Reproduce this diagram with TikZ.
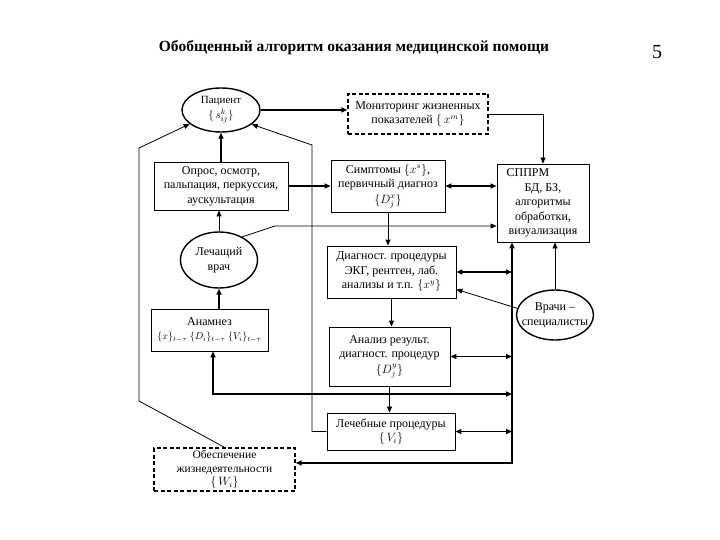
\documentclass[tikz,border=0pt]{standalone}
\usepackage{fontspec}
\setmainfont{Liberation Serif}
\usetikzlibrary{shapes.geometric,arrows.meta,calc}
\begin{document}
\begin{tikzpicture}[x=1pt,y=-1pt,
  txt/.style={align=center,font=\fontsize{12}{14.5}\selectfont,inner sep=0.5pt},
  rbox/.style={txt,draw,rectangle,line width=0.8pt},
  dbox/.style={txt,draw,rectangle,line width=1.4pt,dash pattern=on 4pt off 2.5pt},
  ell/.style={txt,draw,ellipse,line width=1.4pt,inner xsep=-12pt,inner ysep=-4pt},
  tip/.style={-{Triangle[length=6pt,width=5pt]}},
  bitip/.style={{Triangle[length=6pt,width=5pt]}-{Triangle[length=6pt,width=5pt]}},
  thk/.style={line width=1.5pt},
  thn/.style={line width=0.8pt}]
\useasboundingbox (0,0) rectangle (720,540);
\node[font=\bfseries\fontsize{15.5}{18}\selectfont] (title) at (354,48) {Обобщенный алгоритм оказания медицинской помощи};
\node[font=\fontsize{20}{22}\selectfont] (pagenum) at (657,52) {5};
% nodes
\node[ell,font=\fontsize{11}{14}\selectfont,minimum width=78,minimum height=44] (pac) at (221,110) {Пациент\\[1pt]$\{\,s_{ij}^{k}\}$};
\node[dbox,minimum width=140,minimum height=40] (mon) at (418,114) {Мониторинг жизненных\\показателей $\{\,x^{m}\}$};
\node[rbox,minimum width=134,minimum height=48] (opr) at (221,186) {Опрос, осмотр,\\пальпация, перкуссия,\\аускультация};
\node[rbox,minimum width=114,minimum height=52] (sym) at (388,186) {Симптомы $\{x^{s}\}$,\\первичный диагноз\\[1pt]$\{D_j^{x}\}$};
\node[rbox,minimum width=92,minimum height=78] (sppr) at (543,203) {СППРМ\hspace*{30pt}\\БД, БЗ,\\алгоритмы\\обработки,\\визуализация};
\node[ell,minimum width=77,minimum height=56] (lech) at (219,260) {Лечащий\\врач};
\node[rbox,minimum width=117,minimum height=42] (anam) at (209.5,330) {Анамнез\\{\fontsize{10}{12}\selectfont$\{x\}_{t-\tau}\ \{D_i\}_{t-\tau}\ \{V_i\}_{t-\tau}$}};
\node[rbox,minimum width=129,minimum height=52] (diag) at (391.5,272) {Диагност. процедуры\\ЭКГ, рентген, лаб.\\анализы и т.п. $\{x^{y}\}$};
\node[rbox,minimum width=121,minimum height=59] (anal) at (389.5,356.5) {Анализ результ.\\диагност. процедур\\[1pt]$\{D_j^{y}\}$};
\node[rbox,minimum width=128,minimum height=37] (lebp) at (391,431.5) {Лечебные процедуры\\$\{\,V_i\}$};
\node[dbox,font=\fontsize{11.5}{13.5}\selectfont,minimum width=141,minimum height=43] (obes) at (224.5,469.5) {Обеспечение\\жизнедеятельности\\$\{\,W_i\}$};
\node[ell,minimum width=77,minimum height=50] (vrach) at (555,315) {Врачи –\\специалисты};
% helper coordinates
\coordinate (k1) at (275,226);
\coordinate (v1) at (312,145);
\coordinate (o1) at (139,401);
\coordinate (o2) at (139,148);
\coordinate (b1) at (512,463);
\coordinate (h1) at (213,394);
% connectors
\draw[thk,tip] (pac.east) -- (pac.east -| mon.west);
\draw[thn,tip] (mon.east) -| (sppr.north);
\draw[thk,tip] (opr.north) -- (pac.south);
\draw[thk,tip] (opr.east) -- (opr.east -| sym.west);
\draw[thn,tip] (lech.north) -- (lech.north |- opr.south);
\draw[thk,tip] (lech.south |- anam.north) -- (lech.south);
\draw[thk,bitip] (sym.east) -- (sym.east -| sppr.west);
\draw[thn,tip] (sym.south) -- (sym.south |- diag.north);
\draw[thn,tip] (lech.45) -- (k1) -- (k1 -| sppr.west);
\draw[thn,tip] (lebp.west) -| (v1) -- (pac.-25);
\draw[thn,tip] (obes.north) -- (o1) -- (o2) -- (pac.204);
\draw[thk,bitip] (b1 -| obes.east) -- (b1) -- (b1 |- sppr.south);
\draw[thk,bitip] (diag.east) -- (diag.east -| b1);
\draw[thn,bitip] (anal.east) -- (anal.east -| b1);
\draw[thk,bitip] (anam.south -| h1) -- (h1) -- (h1 -| b1);
\draw[thk,bitip] (lebp.east) -- (lebp.east -| b1);
\draw[thk,tip] (diag.south) -- (diag.south |- anal.north);
\draw[thk,tip] (anal.south) -- (anal.south |- lebp.north);
\draw[thn,tip] (vrach.170) -- (diag.-15);
\draw[thn,tip] (vrach.north) -- (vrach.north |- sppr.south);
\end{tikzpicture}
\end{document}
